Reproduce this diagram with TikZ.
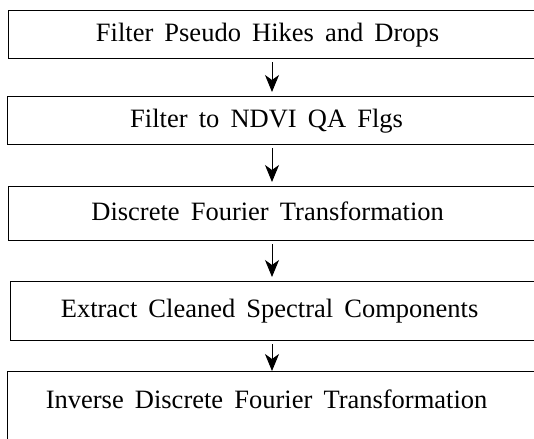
\documentclass[tikz,border=0pt]{standalone}
\usepackage{fontspec}
\setmainfont{Liberation Serif}
\newfontfamily\boxfont{Liberation Serif}
\usepackage{tikz}
\usetikzlibrary{
    arrows.meta,
    positioning
}
% text of a box, centred a little left of the box middle
\newcommand{\flowtext}[1]{\makebox[560pt][l]{\makebox[518pt]{\spaceskip=0.42em\relax #1}}}
\tikzset{
    % Boxes of the flow, open to the right edge
    stepbox/.style={
        rectangle,
        draw=black,
        line width=1.2pt,
        anchor=north west,
        inner xsep=0pt,
        inner ysep=0pt,
        text height=18pt,
        text depth=5pt,
        font=\boxfont\fontsize{26.5}{32}\selectfont,
    },
    % Thin arrow with a filled head
    arrow/.style={
        -{Stealth[length=17pt, width=14pt, inset=5pt]},
        line width=0.9pt,
        draw=black,
        shorten <=3pt,
        shorten >=4pt,
    },
}
\begin{document}
\begin{tikzpicture}[x=1pt, y=-1pt]
    \useasboundingbox (0,0) rectangle (534,438);
    \node (hikes) [stepbox, minimum height=48pt] at (8,10) {\flowtext{Filter Pseudo Hikes and Drops}};
    \node (qaflags) [stepbox, minimum height=48pt] at (7,96) {\flowtext{Filter to NDVI QA Flgs}};
    \node (dft) [stepbox, minimum height=54pt] at (8,186) {\flowtext{Discrete Fourier Transformation}};
    \node (extract) [stepbox, minimum height=59pt] at (10,281) {\flowtext{Extract Cleaned Spectral Components}};
    \node (idft) [stepbox, minimum height=72pt, text depth=17pt] at (7,371) {\flowtext{Inverse Discrete Fourier Transformation}};
    \coordinate (arrx) at (272,0);

    \draw [arrow] (hikes.south -| arrx) -- (qaflags.north -| arrx);
    \draw [arrow] (qaflags.south -| arrx) -- (dft.north -| arrx);
    \draw [arrow] (dft.south -| arrx) -- (extract.north -| arrx);
    \draw [arrow, shorten >=0pt] (extract.south -| arrx) -- (idft.north -| arrx);
\end{tikzpicture}
\end{document}
